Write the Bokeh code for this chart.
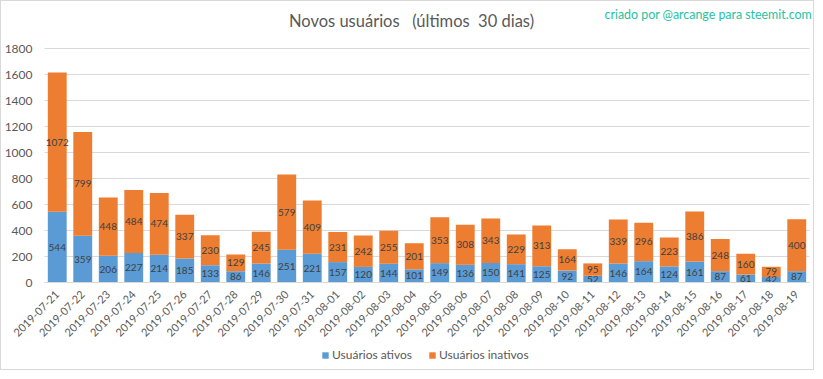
import math
from bokeh.plotting import figure
from bokeh.models import (ColumnDataSource, Label, Legend, LegendItem, FixedTicker, Range1d, Grid)
from bokeh.core.properties import value
from bokeh.embed import file_html
from bokeh.resources import INLINE

dates = ["2019-07-21", "2019-07-22", "2019-07-23", "2019-07-24", "2019-07-25", "2019-07-26",
         "2019-07-27", "2019-07-28", "2019-07-29", "2019-07-30", "2019-07-31", "2019-08-01",
         "2019-08-02", "2019-08-03", "2019-08-04", "2019-08-05", "2019-08-06", "2019-08-07",
         "2019-08-08", "2019-08-09", "2019-08-10", "2019-08-11", "2019-08-12", "2019-08-13",
         "2019-08-14", "2019-08-15", "2019-08-16", "2019-08-17", "2019-08-18", "2019-08-19"]
ativos = [544, 359, 206, 227, 214, 185, 133, 86, 146, 251, 221, 157, 120, 144, 101,
          149, 136, 150, 141, 125, 92, 52, 146, 164, 124, 161, 87, 61, 42, 87]
inativos = [1072, 799, 448, 484, 474, 337, 230, 129, 245, 579, 409, 231, 242, 255, 201,
            353, 308, 343, 229, 313, 164, 95, 339, 296, 223, 386, 248, 160, 79, 400]
y_ticks = [0, 200, 400, 600, 800, 1000, 1200, 1400, 1600, 1800]

BLUE = "#5B9BD5"
ORANGE = "#ED7D31"
GRAY = "#595959"
GRID = "#d9d9d9"
FONT = "Lato"

n = len(dates)
idx = list(range(n))

# layout (pixels within the canvas)
W, H = 814, 370
TOP_PX, ZERO_PX = 47, 281            # rows of the top gridline and of the zero line
LEFT_PX, RIGHT_PX = 43, 808          # columns where the category band starts / ends
py = (ZERO_PX - TOP_PX) / y_ticks[-1]
px = (RIGHT_PX - LEFT_PX) / n
x_lo, x_hi = -0.5, n - 0.5
x_range = Range1d(x_lo - LEFT_PX / px, x_hi + (W - RIGHT_PX) / px)
y_range = Range1d(-(H - ZERO_PX) / py, y_ticks[-1] + TOP_PX / py)

src = ColumnDataSource(dict(
    x=idx, date=dates, ativos=ativos, inativos=inativos,
    a_mid=[a / 2 for a in ativos],
    i_mid=[a + i / 2 for a, i in zip(ativos, inativos)],
    a_txt=[str(a) for a in ativos],
    i_txt=[str(i) for i in inativos],
))

p = figure(x_range=x_range, y_range=y_range, width=W, height=H,
           output_backend="svg", toolbar_location=None,
           min_border_left=0, min_border_right=0, min_border_top=0, min_border_bottom=0)
p.outline_line_color = None
p.styles = {"border": "1px solid #d9d9d9", "box-sizing": "border-box"}

# horizontal grid limited to the category band
p.xgrid.grid_line_color = None
if "cross_bounds" in Grid.properties():
    p.ygrid.ticker = FixedTicker(ticks=y_ticks)
    p.ygrid.grid_line_color = GRID
    p.ygrid.cross_bounds = (x_lo, x_hi)
else:
    p.ygrid.grid_line_color = None
    p.segment(x0=[x_lo] * len(y_ticks), x1=[x_hi] * len(y_ticks), y0=y_ticks, y1=y_ticks,
              line_color=GRID, line_width=1, level="underlay")

r = p.vbar_stack(["ativos", "inativos"], x="x", width=0.74, color=[BLUE, ORANGE],
                 source=src, line_color=None)

p.text(x="x", y="a_mid", text="a_txt", source=src, text_align="center",
       text_baseline="middle", text_font=value(FONT), text_font_size="10px", text_color="#404040")
p.text(x="x", y="i_mid", text="i_txt", source=src, text_align="center",
       text_baseline="middle", text_font=value(FONT), text_font_size="10px", text_color="#404040")

p.yaxis.fixed_location = x_lo
p.yaxis.ticker = FixedTicker(ticks=y_ticks)
p.yaxis.axis_line_color = None
p.yaxis.major_tick_line_color = None
p.yaxis.minor_tick_line_color = None
p.yaxis.major_label_text_font = FONT
p.yaxis.major_label_text_font_size = "12px"
p.yaxis.major_label_text_color = GRAY
p.yaxis.major_label_standoff = 6

p.xaxis.fixed_location = 0
p.xaxis.bounds = (x_lo, x_hi)
p.xaxis.ticker = FixedTicker(ticks=idx)
p.xaxis.major_label_overrides = {i: d for i, d in zip(idx, dates)}
p.xaxis.axis_line_color = GRID
p.xaxis.major_tick_line_color = None
p.xaxis.minor_tick_line_color = None
p.xaxis.major_label_orientation = math.pi / 4
p.xaxis.major_label_text_font = FONT
p.xaxis.major_label_text_font_size = "11px"
p.xaxis.major_label_text_color = GRAY
p.xaxis.major_label_standoff = 4

p.add_layout(Label(x=410, y=H - 19, x_units="screen", y_units="screen",
                   text="Novos usuários\u00a0\u00a0 (últimos\u00a0 30 dias)",
                   text_align="center", text_baseline="middle",
                   text_font=FONT, text_font_size="16.5px", text_color=GRAY))

p.add_layout(Label(x=603, y=H - 13, x_units="screen", y_units="screen",
                   text="criado por @arcange para steemit.com", text_font=FONT,
                   text_baseline="middle",
                   text_font_size="12.4px", text_color="#26C2A2"))

legend = Legend(items=[LegendItem(label="Usuários ativos", renderers=[r[0]]),
                       LegendItem(label="Usuários inativos", renderers=[r[1]])],
                orientation="horizontal", location=(320, 9),
                label_text_font=FONT, label_text_font_size="12px", label_text_color=GRAY,
                glyph_width=8, glyph_height=8, label_standoff=3, spacing=16,
                border_line_color=None, background_fill_alpha=0, padding=0, margin=0)
p.add_layout(legend)

open("out.html", "w").write(file_html(p, INLINE))
